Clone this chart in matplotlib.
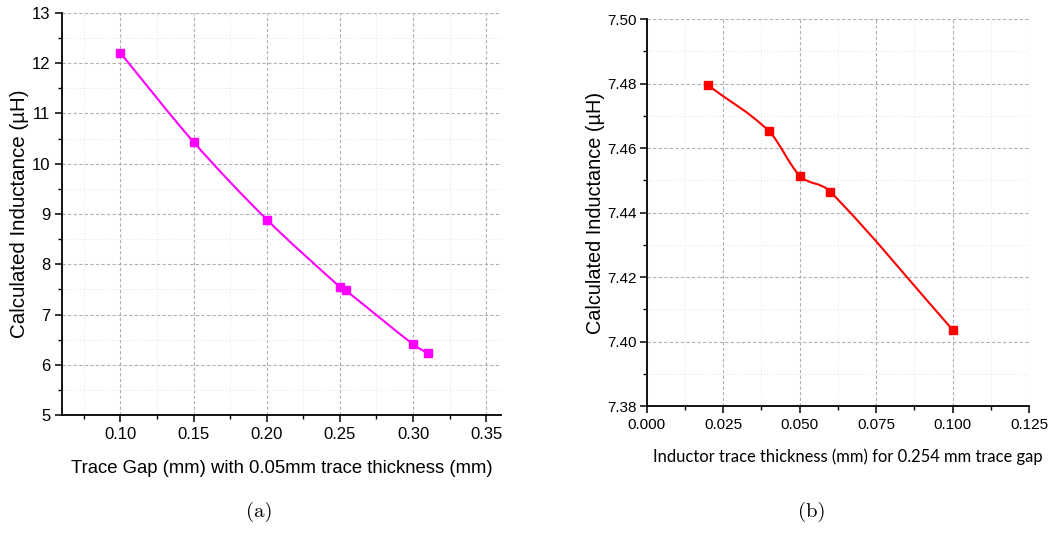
"""Inductance vs. trace geometry: gap sweep (a) and thickness sweep (b)."""

import matplotlib

matplotlib.use("Agg")
import matplotlib.pyplot as plt
import numpy as np
from matplotlib.patches import PathPatch
from matplotlib.path import Path
from matplotlib.ticker import MultipleLocator

# (a) trace gap sweep, 0.05 mm trace thickness
gap_mm = [0.10, 0.15, 0.20, 0.25, 0.254, 0.30, 0.31]
gap_inductance_uh = [12.20, 10.43, 8.89, 7.55, 7.48, 6.41, 6.23]

# (b) trace thickness sweep, 0.254 mm trace gap
thickness_mm = [0.02, 0.04, 0.05, 0.06, 0.10]
thickness_inductance_uh = [7.4795, 7.4652, 7.4515, 7.4465, 7.4037]

GRID_MAJOR = dict(color="#b0b0b0", linestyle=(0, (3, 2)), linewidth=0.8)
GRID_MINOR = dict(color="#e2e2e2", linestyle=(0, (1, 2)), linewidth=0.7)


def spline_patch(x, y, color):
    """Smooth connector through the points (Catmull-Rom in x, cubic Beziers)."""
    x = np.asarray(x, float)
    y = np.asarray(y, float)
    n = len(x)
    m = np.empty(n)
    m[0] = (y[1] - y[0]) / (x[1] - x[0])
    m[-1] = (y[-1] - y[-2]) / (x[-1] - x[-2])
    m[1:-1] = (y[2:] - y[:-2]) / (x[2:] - x[:-2])
    verts = [(x[0], y[0])]
    codes = [Path.MOVETO]
    for i in range(n - 1):
        h = x[i + 1] - x[i]
        verts += [(x[i] + h / 3, y[i] + m[i] * h / 3),
                  (x[i + 1] - h / 3, y[i + 1] - m[i + 1] * h / 3),
                  (x[i + 1], y[i + 1])]
        codes += [Path.CURVE4] * 3
    return PathPatch(Path(verts, codes), facecolor="none", edgecolor=color,
                     linewidth=1.5, zorder=3)


def style_axes(ax, tick_font):
    ax.spines["top"].set_visible(False)
    ax.spines["right"].set_visible(False)
    for s in ("left", "bottom"):
        ax.spines[s].set_linewidth(1.3)
    ax.tick_params(which="major", direction="out", length=5, width=1.1)
    ax.tick_params(which="minor", direction="out", length=3, width=1.0)
    ax.grid(True, which="major", **GRID_MAJOR)
    ax.grid(True, which="minor", **GRID_MINOR)
    ax.set_axisbelow(True)
    for lab in ax.get_xticklabels() + ax.get_yticklabels():
        lab.set_fontfamily(tick_font)


fig = plt.figure(figsize=(10.5, 5.33), dpi=100)

# ---- panel (a)
ax1 = fig.add_axes([0.059, 0.221, 0.418, 0.755])
ax1.add_patch(spline_patch(gap_mm, gap_inductance_uh, "#ff00ff"))
ax1.plot(gap_mm, gap_inductance_uh, linestyle="none", marker="s",
         markersize=6, color="#ff00ff", zorder=4)
ax1.set_xlim(0.06, 0.36)
ax1.set_ylim(5, 13)
ax1.xaxis.set_major_locator(MultipleLocator(0.05))
ax1.xaxis.set_minor_locator(MultipleLocator(0.025))
ax1.yaxis.set_major_locator(MultipleLocator(1))
ax1.yaxis.set_minor_locator(MultipleLocator(0.5))
ax1.set_xticks([0.10, 0.15, 0.20, 0.25, 0.30, 0.35])
ax1.set_xticklabels(["0.10", "0.15", "0.20", "0.25", "0.30", "0.35"])
ax1.tick_params(labelsize=12)
style_axes(ax1, "Liberation Sans")
ax1.set_xlabel("Trace Gap (mm) with 0.05mm trace thickness (mm)",
               fontsize=13.3, fontfamily="Liberation Sans", labelpad=13)
ax1.set_ylabel("Calculated Inductance (\u00b5H)", fontsize=14.8,
               fontfamily="Liberation Sans", labelpad=2)

# ---- panel (b)
ax2 = fig.add_axes([0.616, 0.238, 0.364, 0.726])
ax2.add_patch(spline_patch(thickness_mm, thickness_inductance_uh, "#ff0000"))
ax2.plot(thickness_mm, thickness_inductance_uh, linestyle="none", marker="s",
         markersize=5.5, color="#ff0000", zorder=4)
ax2.set_xlim(0.0, 0.125)
ax2.set_ylim(7.38, 7.50)
ax2.xaxis.set_major_locator(MultipleLocator(0.025))
ax2.xaxis.set_minor_locator(MultipleLocator(0.0125))
ax2.yaxis.set_major_locator(MultipleLocator(0.02))
ax2.yaxis.set_minor_locator(MultipleLocator(0.01))
ax2.xaxis.set_major_formatter(plt.FormatStrFormatter("%.3f"))
ax2.yaxis.set_major_formatter(plt.FormatStrFormatter("%.2f"))
ax2.tick_params(labelsize=11)
ax2.tick_params(axis="y", pad=2.5)
style_axes(ax2, "Liberation Sans")
ax2.set_xlabel("Inductor trace thickness (mm) for 0.254 mm trace gap",
               fontsize=11.9, fontfamily="Lato")
ax2.xaxis.set_label_coords(0.525, -0.110)
ax2.set_ylabel("Calculated Inductance (\u00b5H)", fontsize=14.3,
               fontfamily="Liberation Sans", labelpad=1)

# sub-figure captions
fig.text(0.247, 0.030, "(a)", fontsize=15, fontfamily="cmr10", ha="center")
fig.text(0.773, 0.030, "(b)", fontsize=15, fontfamily="cmr10", ha="center")

fig.savefig("out.png", dpi=100)
